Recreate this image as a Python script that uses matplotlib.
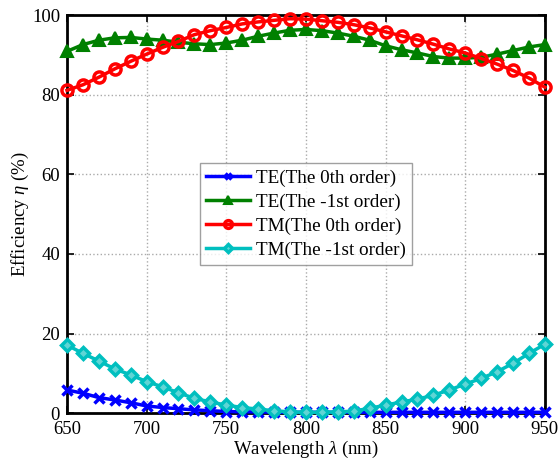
import matplotlib
matplotlib.use("Agg")
import matplotlib.pyplot as plt
import numpy as np

wavelength = list(range(650, 951, 10))

te_0th = [5.8, 5.0, 3.9, 3.3, 2.6, 1.8, 1.4, 1.1, 0.8, 0.6, 0.4, 0.3, 0.3, 0.2, 0.2, 0.2,
          0.2, 0.2, 0.2, 0.2, 0.2, 0.2, 0.2, 0.2, 0.2, 0.2, 0.2, 0.2, 0.2, 0.2, 0.2]
te_m1st = [90.9, 92.6, 93.7, 94.3, 94.4, 94.0, 93.7, 93.2, 92.8, 92.6, 93.0, 93.7, 94.7, 95.5, 96.2, 96.4,
           96.1, 95.5, 94.7, 93.7, 92.3, 91.3, 90.5, 89.6, 89.2, 89.2, 89.4, 90.2, 91.1, 92.0, 92.6]
tm_0th = [81.1, 82.5, 84.4, 86.5, 88.4, 90.2, 91.9, 93.4, 95.1, 96.1, 96.9, 97.8, 98.3, 98.7, 99.1, 99.0,
          98.6, 98.2, 97.6, 96.8, 95.8, 94.8, 93.8, 92.7, 91.5, 90.5, 89.1, 87.7, 86.1, 84.2, 81.9]
tm_m1st = [17.1, 15.0, 13.1, 11.1, 9.6, 7.9, 6.6, 5.1, 3.7, 2.8, 2.0, 1.4, 1.0, 0.6, 0.3, 0.2,
           0.2, 0.3, 0.5, 1.2, 2.0, 2.8, 3.5, 4.5, 5.8, 7.3, 8.7, 10.4, 12.5, 15.0, 17.3]

labels = ["TE(The 0th order)", "TE(The -1st order)", "TM(The 0th order)", "TM(The -1st order)"]
xticks = [650, 700, 750, 800, 850, 900, 950]
yticks = [0, 20, 40, 60, 80, 100]

plt.rcParams['font.family'] = ['Liberation Serif', 'DejaVu Serif']
plt.rcParams['mathtext.fontset'] = 'custom'
plt.rcParams['mathtext.it'] = 'Liberation Serif:italic'
plt.rcParams['mathtext.rm'] = 'Liberation Serif'

fig = plt.figure(figsize=(5.6, 4.59), dpi=100)
ax = fig.add_axes([0.1196, 0.100, 0.8534, 0.867])

lw = 2.5
ax.plot(wavelength, te_0th, color='#0000ff', lw=lw, marker='x', ms=7, mew=2.5, label=labels[0], clip_on=False, zorder=3)
ax.plot(wavelength, te_m1st, color='#008000', lw=lw, marker='^', ms=8, mew=1.5, label=labels[1], clip_on=False, zorder=3)
ax.plot(wavelength, tm_0th, color='#ff0000', lw=lw, marker='o', ms=8, mfc='none', mew=2.5, label=labels[2], clip_on=False, zorder=3)
ax.plot(wavelength, tm_m1st, color='#00bfbf', lw=lw, marker='D', ms=6.5, mfc='#5fd5d5', mew=2.5, label=labels[3], clip_on=False, zorder=3)

ax.set_xlim(650, 950)
ax.set_ylim(0, 100)
ax.set_xticks(xticks)
ax.set_yticks(yticks)
ax.tick_params(direction='in', top=True, right=True, length=5, width=1.2, labelsize=13.5)
ax.tick_params(axis='x', pad=6)
ax.tick_params(axis='y', pad=5)
ax.grid(True, linestyle=':', color='#aaaaaa', linewidth=1)
for s in ax.spines.values():
    s.set_linewidth(2)
    s.set_zorder(2.5)

ax.set_xlabel(r'Wavelength $\it{\lambda}$ (nm)', fontsize=13.5, labelpad=0)
ax.set_ylabel(r'Efficiency $\it{\eta}$ (%)', fontsize=13.5, labelpad=1)

leg = ax.legend(loc='center', fontsize=13.8, frameon=True, fancybox=False, edgecolor='#888888',
                handlelength=2.3, borderpad=0.3, labelspacing=0.35, handletextpad=0.3, markerscale=0.7)
leg.get_frame().set_linewidth(1)

fig.savefig('out.png', dpi=100)
